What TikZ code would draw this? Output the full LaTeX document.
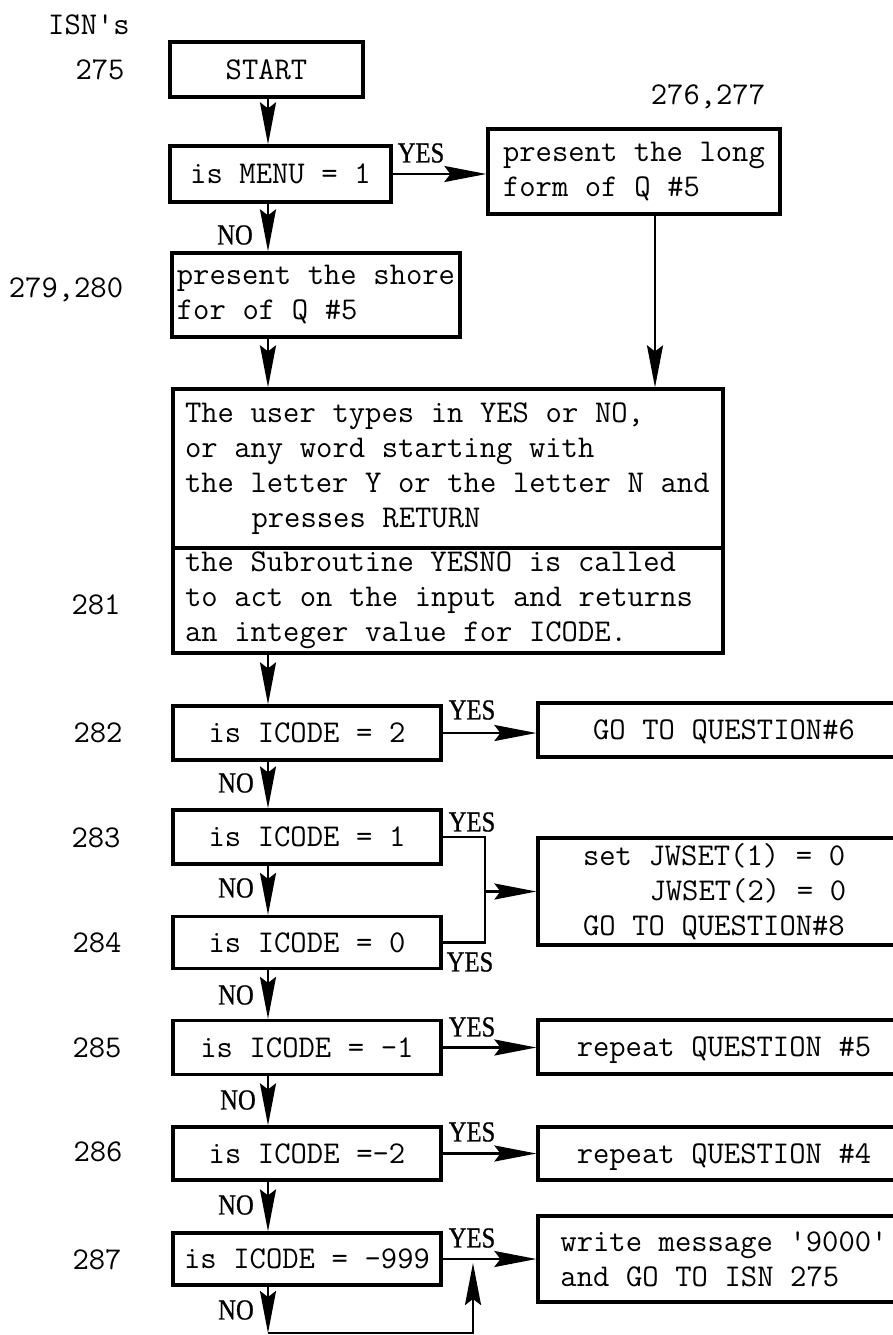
\documentclass[tikz,border=0pt]{standalone}
\usepackage{fontspec}
\newfontfamily\lblfont[FakeStretch=0.85,FakeBold=0.8]{Liberation Serif}
\usetikzlibrary{arrows.meta}
\newcommand\monofnt{\fontsize{31.7}{35}\selectfont\ttfamily\spaceskip=0.525em\relax\xspaceskip=0.525em\relax}
\begin{document}
\begin{tikzpicture}[x=1pt,y=-1pt,
  mono/.style={font=\monofnt},
  box/.style={draw, line width=3.2pt, inner sep=0pt, mono},
  one/.style={text height=19.3pt, text depth=0pt},
  lbl/.style={font=\fontsize{29}{30}\selectfont\lblfont, inner sep=0pt},
  isn/.style={mono, inner sep=0pt},
  conn/.style={line width=2.6pt},
  arr/.style={conn, -{Stealth[length=42pt,width=16pt,inset=6pt]}},
]
\fill[white] (0,0) rectangle (893,1335);
\useasboundingbox (0,0) rectangle (893,1335);

% ISN numbers
\node[isn] (isn) at (89,25) {ISN\textquotesingle s};
\node[isn] (n275) at (100,70) {275};
\node[isn] (n276) at (708,97) {276,277};
\node[isn] (n279) at (66,290) {279,280};
\node[isn] (n281) at (96,605) {281};
\node[isn] (n282) at (98,733) {282};
\node[isn] (n283) at (96,838) {283};
\node[isn] (n284) at (97,943) {284};
\node[isn] (n285) at (97,1048) {285};
\node[isn] (n286) at (98,1152) {286};
\node[isn] (n287) at (97,1260) {287};

% boxes
\node[box, one, minimum width=193pt, minimum height=55pt] (start) at (266.5,69.5) {START};
\node[box, one, minimum width=221pt, minimum height=56pt] (menu) at (280.5,174) {is MENU = 1};
\node[box, minimum width=292pt, minimum height=85pt, align=left] (long) at (634,171.5) {present the long\\form of Q \#5};
\node[box, minimum width=288pt, minimum height=84pt, align=left] (shore) at (316,295) {present the shore\\for of Q \#5};
\node[box, minimum width=550pt, minimum height=159pt, align=left] (bigA) at (448,468.5) {\makebox[526pt][l]{The user types in YES or NO,}\\or any word starting with\\the letter Y or the letter N and\\\hspace*{2.1em}presses RETURN};
\node[box, minimum width=550pt, minimum height=105pt, align=left] (bigB) at (448,600.5) {\makebox[526pt][l]{the Subroutine YESNO is called}\\to act on the input and returns\\an integer value for ICODE.};

\node[box, one, minimum width=268pt, minimum height=54pt] (q2) at (307,733) {is ICODE = 2};
\node[box, one, minimum width=268pt, minimum height=54pt] (q3) at (307,837) {is ICODE = 1};
\node[box, one, minimum width=268pt, minimum height=52pt] (q4) at (307,942.5) {is ICODE = 0};
\node[box, one, minimum width=268pt, minimum height=54pt] (q5) at (307,1047.5) {is ICODE = -1};
\node[box, one, minimum width=268pt, minimum height=53pt] (q6) at (307,1153.5) {is ICODE =-2};
\node[box, one, minimum width=268pt, minimum height=52pt] (q7) at (307,1259) {is ICODE = -999};

\node[box, one, minimum width=372pt, minimum height=54pt] (go6) at (724,730) {GO TO QUESTION\#6};
\node[box, minimum width=372pt, minimum height=107pt, align=left] (jw) at (724,891.5) {\makebox[282pt][l]{set JWSET(1) = 0}\\\hspace*{2.1em}JWSET(2) = 0\\GO TO QUESTION\#8};
\node[box, one, minimum width=372pt, minimum height=54pt] (r5) at (724,1047) {repeat QUESTION \#5};
\node[box, one, minimum width=372pt, minimum height=53pt] (r4) at (724,1153.5) {repeat QUESTION \#4};
\node[box, minimum width=372pt, minimum height=86pt, align=left] (wm) at (724,1259) {write message \textquotesingle{}9000\textquotesingle\\and GO TO ISN 275};

% YES / NO labels
\node[lbl] (y1) at (421,153) {YES};
\node[lbl] (o1) at (235,235) {NO};
\node[lbl] (y2) at (472,710) {YES};
\node[lbl] (o2) at (236,783) {NO};
\node[lbl] (y3) at (472,822) {YES};
\node[lbl] (o3) at (236,888) {NO};
\node[lbl] (y4) at (470,962) {YES};
\node[lbl] (o4) at (236,995) {NO};
\node[lbl] (y5) at (472,1027) {YES};
\node[lbl] (o5) at (238,1100) {NO};
\node[lbl] (y6) at (472,1132) {YES};
\node[lbl] (o6) at (236,1205) {NO};
\node[lbl] (y7) at (472,1238) {YES};
\node[lbl] (o7) at (236,1310) {NO};

% helper coordinates
\coordinate (sp) at (268,0);
\coordinate (rsp) at (655,0);
\coordinate (jx) at (485,0);
\coordinate (c1) at (268,1333);
\coordinate (c2) at (473,1333);
\coordinate (c3) at (473,1263);

% connectors
\draw[arr] (start.south -| sp) -- (menu.north -| sp);
\draw[arr] (menu.east) -- (menu.east -| long.west);
\draw[arr] (menu.south -| sp) -- (shore.north -| sp);
\draw[arr] (long.south -| rsp) -- (bigA.north -| rsp);
\draw[arr] (shore.south -| sp) -- (bigA.north -| sp);
\draw[arr] (bigB.south -| sp) -- (q2.north -| sp);
\draw[arr] (q2.east) -- (q2.east -| go6.west);
\draw[arr] (q2.south -| sp) -- (q3.north -| sp);
\draw[conn] (q3.east) -- (q3.east -| jx) -- (q4.east -| jx) -- (q4.east);
\draw[arr] (jw.west -| jx) -- (jw.west);
\draw[arr] (q3.south -| sp) -- (q4.north -| sp);
\draw[arr] (q4.south -| sp) -- (q5.north -| sp);
\draw[arr] (q5.east) -- (q5.east -| r5.west);
\draw[arr] (q5.south -| sp) -- (q6.north -| sp);
\draw[arr] (q6.east) -- (q6.east -| r4.west);
\draw[arr] (q6.south -| sp) -- (q7.north -| sp);
\draw[arr] (q7.east) -- (q7.east -| wm.west);
\draw[arr] (q7.south -| sp) -- (c1);
\draw[arr] (c1) -- (c2) -- (c3);
\end{tikzpicture}
\end{document}
